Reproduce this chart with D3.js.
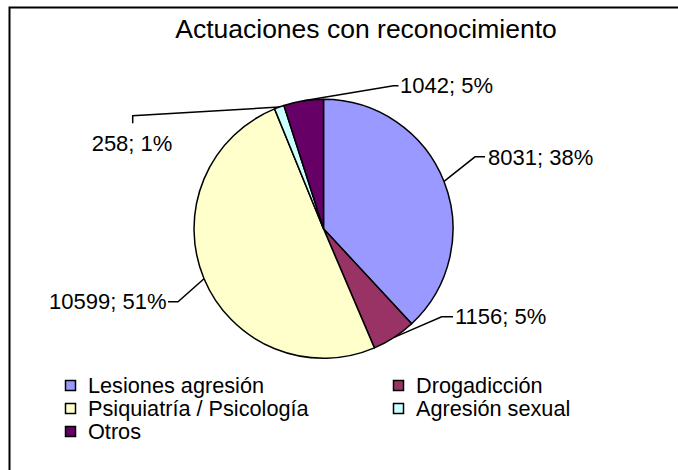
<!DOCTYPE html>
<html>
<head>
<meta charset="utf-8">
<script src="https://cdn.jsdelivr.net/npm/d3@7"></script>
<style>
  html, body { margin: 0; padding: 0; background: #fff; }
  svg { display: block; }
  text { font-family: "Liberation Sans", Arial, sans-serif; fill: #000; }
</style>
</head>
<body>
<svg id="chart" width="678" height="470"></svg>
<script>
// ---- data ----
const categories = ["Lesiones agresión", "Drogadicción", "Psiquiatría / Psicología", "Agresión sexual", "Otros"];
const values = [8031, 1156, 10599, 258, 1042];
const pctLabels = ["38%", "5%", "51%", "1%", "5%"];
const colors = ["#9999FF", "#993366", "#FFFFCC", "#CCFFFF", "#660066"];
const title = "Actuaciones con reconocimiento";

const svg = d3.select("#chart");
const W = 678, H = 470;

// frame (right/bottom edges fall outside the picture)
svg.append("rect")
  .attr("x", 9.5).attr("y", 7.5)
  .attr("width", W + 20).attr("height", H + 20)
  .attr("fill", "#fff").attr("stroke", "#000").attr("stroke-width", 2);

svg.append("text")
  .attr("x", 366).attr("y", 37.5)
  .attr("text-anchor", "middle")
  .attr("font-size", 26.5)
  .text(title);

const cx = 323.5, cy = 228.8, r = 129.5;
const g = svg.append("g").attr("transform", `translate(${cx},${cy})`);

const data = categories.map((c, i) => ({ name: c, value: values[i], pct: pctLabels[i], color: colors[i] }));
const pie = d3.pie().value(d => d.value).sort(null);
const arcs = pie(data);
const arc = d3.arc().innerRadius(0).outerRadius(r);

g.selectAll("path.slice").data(arcs).enter().append("path")
  .attr("class", "slice")
  .attr("d", arc)
  .attr("fill", d => d.data.color)
  .attr("stroke", "#000").attr("stroke-width", 1.5)
  .attr("stroke-linejoin", "round");

// label layout (relative to pie centre): elbow point, end point, text anchor position
const labelLayout = [
  { elbow: [151.5, -72], end: [161.5, -72], tx: 164.5, ty: -72, anchor: "start" },
  { elbow: [118.2, 88], end: [129.5, 88], tx: 131.5, ty: 88, anchor: "start" },
  { elbow: [-145.5, 73], end: [-155.5, 73], tx: -157, ty: 73, anchor: "end" },
  { elbow: [-190.8, -113.1], end: [-190.8, -105.5], tx: -191.5, ty: -85.5, anchor: "middle" },
  { elbow: [70, -143], end: [75, -143], tx: 76.5, ty: -143.5, anchor: "start" }
];

const fmt = d3.format("d");
arcs.forEach((a, i) => {
  const mid = (a.startAngle + a.endAngle) / 2;
  const px = r * Math.sin(mid), py = -r * Math.cos(mid);
  const L = labelLayout[i];
  g.append("polyline")
    .attr("points", [[px, py], L.elbow, L.end].map(p => p.join(",")).join(" "))
    .attr("fill", "none").attr("stroke", "#000").attr("stroke-width", 1.5);
  g.append("text")
    .attr("x", L.tx).attr("y", L.ty)
    .attr("dy", "0.35em")
    .attr("text-anchor", L.anchor)
    .attr("font-size", 22)
    .text(`${fmt(a.data.value)}; ${a.data.pct}`);
});

// legend
const legendItems = data.map((d, i) => ({ ...d, col: i % 2, row: Math.floor(i / 2) }));
const lg = svg.append("g");
const colX = [65.5, 393.5], rowY0 = 380.5, rowStep = 23;
const li = lg.selectAll("g.item").data(legendItems).enter().append("g")
  .attr("transform", d => `translate(${colX[d.col]},${rowY0 + d.row * rowStep})`);
li.append("rect")
  .attr("width", 10).attr("height", 10)
  .attr("fill", d => d.color).attr("stroke", "#000").attr("stroke-width", 1.5);
li.append("text")
  .attr("x", 22.5).attr("y", 5)
  .attr("dy", "0.35em")
  .attr("font-size", 21.7)
  .text(d => d.name);
</script>
</body>
</html>
